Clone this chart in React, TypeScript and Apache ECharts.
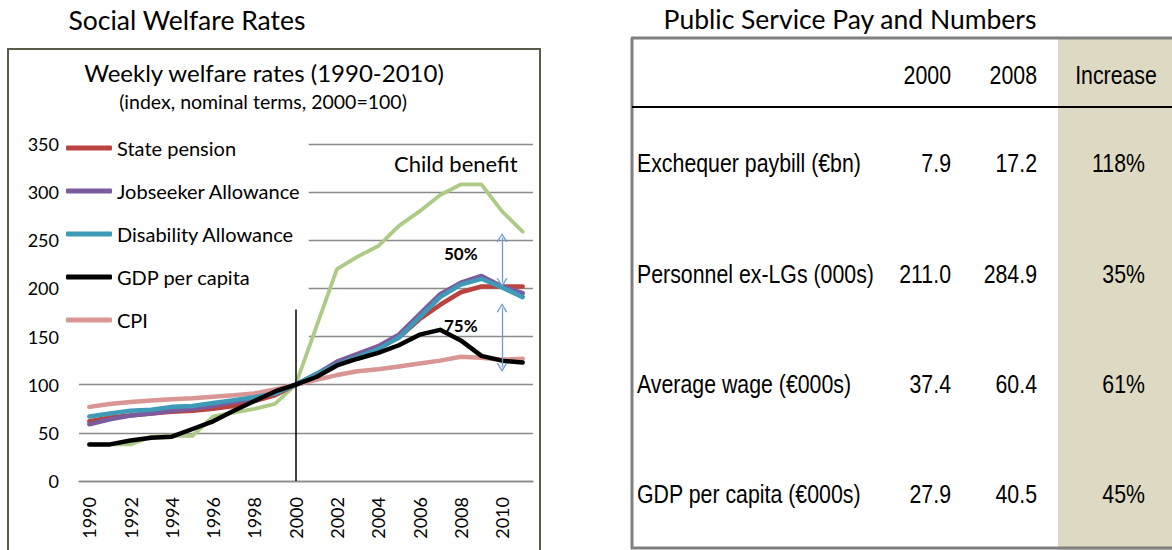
import React, { useEffect, useRef } from "react";
import * as echarts from "echarts";

// ---------- Left chart data ----------
const years = ["1990","1991","1992","1993","1994","1995","1996","1997","1998","1999","2000","2001","2002","2003","2004","2005","2006","2007","2008","2009","2010","2011"];
const statePension = [62, 66, 68, 70, 72, 73, 75, 78, 83, 89, 100, 111, 121, 130, 139, 149, 168, 183, 196, 202, 202, 202];
const jobseeker = [59, 64, 68, 70, 73, 75, 78, 82, 86, 91, 100, 111, 124, 132, 140, 152, 173, 194, 206, 213, 202, 195];
const disability = [67, 70, 73, 74, 77, 78, 81, 84, 87, 91, 100, 111, 121, 129, 137, 149, 170, 191, 204, 210, 201, 191];
const gdpPerCapita = [38, 38, 42, 45, 46, 54, 62, 73, 83, 93, 100, 108, 120, 127, 133, 141, 152, 157, 146, 130, 125, 123];
const cpi = [77, 80, 82, 83.5, 85, 86, 87.5, 89, 91, 95, 100, 105, 110, 114, 116, 119, 122, 125, 129, 128, 126, 127];
const childBenefit = [38, 38, 38, 46, 47, 47, 67, 71, 75, 80, 100, 160, 220, 233, 244, 265, 280, 297, 308, 308, 280, 259];

// ---------- Right table data ----------
const tableHeaders = ["2000", "2008", "Increase"];
const rowLabels = ["Exchequer paybill (\u20acbn)", "Personnel ex-LGs (000s)", "Average wage (\u20ac000s)", "GDP per capita (\u20ac000s)"];
const values2000 = ["7.9", "211.0", "37.4", "27.9"];
const values2008 = ["17.2", "284.9", "60.4", "40.5"];
const increases = ["118%", "35%", "61%", "45%"];

const LATO = "Lato, 'Open Sans', sans-serif";
const ARIAL = "'Liberation Sans', Arial, sans-serif";

function buildGraphic() {
  const g: any[] = [];
  const center = { align: "center", verticalAlign: "middle", textAlign: "center", textVerticalAlign: "middle" };
  // Left panel title and frame
  g.push({ type: "text", x: 187, y: 20, style: { text: "Social Welfare Rates", fontSize: 26.5, fontFamily: LATO, fill: "#000", ...center } });
  g.push({ type: "rect", shape: { x: 8, y: 49, width: 532, height: 520 }, style: { fill: "none", stroke: "#5B5A4C", lineWidth: 2 }, z: 1 });
  g.push({ type: "text", x: 264, y: 72, style: { text: "Weekly welfare rates (1990-2010)", fontSize: 24, fontFamily: LATO, fill: "#000", ...center } });
  g.push({ type: "text", x: 263, y: 101, style: { text: "(index, nominal terms, 2000=100)", fontSize: 19.5, fontFamily: LATO, fill: "#000", ...center } });

  // Right panel title
  g.push({ type: "text", x: 850, y: 19, style: { text: "Public Service Pay and Numbers", fontSize: 26.5, fontFamily: LATO, fill: "#000", ...center } });
  // Shaded increase column
  g.push({ type: "rect", shape: { x: 1058, y: 38, width: 114, height: 512 }, style: { fill: "#DDD9C3" }, z: 0 });
  // Frame
  g.push({ type: "line", shape: { x1: 632, y1: 38, x2: 632, y2: 549 }, style: { stroke: "#808080", lineWidth: 3 } });
  g.push({ type: "line", shape: { x1: 631, y1: 38, x2: 1172, y2: 38 }, style: { stroke: "#808080", lineWidth: 3 } });
  g.push({ type: "line", shape: { x1: 631, y1: 548, x2: 1172, y2: 548 }, style: { stroke: "#808080", lineWidth: 3 } });
  g.push({ type: "line", shape: { x1: 632, y1: 107, x2: 1172, y2: 107 }, style: { stroke: "#000", lineWidth: 2 } });

  const tFont = 26;
  const sx = 0.82;
  const txt = (text: string, x: number, y: number, align: string) => ({
    type: "text", x, y, scaleX: sx,
    style: { text, fontSize: tFont, fontFamily: ARIAL, fill: "#000", align, verticalAlign: "middle", textAlign: align, textVerticalAlign: "middle" },
  });
  const headerY = 75;
  g.push(txt(tableHeaders[0], 951, headerY, "right"));
  g.push(txt(tableHeaders[1], 1037, headerY, "right"));
  g.push(txt(tableHeaders[2], 1116, headerY, "center"));
  const rowY = [163, 274, 384, 494];
  rowLabels.forEach((lab, i) => {
    g.push(txt(lab, 637, rowY[i], "left"));
    g.push(txt(values2000[i], 951, rowY[i], "right"));
    g.push(txt(values2008[i], 1037, rowY[i], "right"));
    g.push(txt(increases[i], 1145, rowY[i], "right"));
  });
  return g;
}

const chevron = "path://M0,10 L5,0 L10,10 L8.6,10 L5,2.6 L1.4,10 Z";

export default function App() {
  const ref = useRef<HTMLDivElement>(null);
  useEffect(() => {
    if (!ref.current) return;
    const chart = echarts.init(ref.current, null, { renderer: "svg" });
    const lineSeries = (name: string, data: number[], color: string, width: number, z = 2) => ({
      type: "line", name, data, symbol: "none", showSymbol: false, z,
      lineStyle: { color, width, cap: "round", join: "round" },
      itemStyle: { color },
      emphasis: { disabled: true },
    });
    const option: any = {
      animation: false,
      backgroundColor: "#fff",
      textStyle: { fontFamily: LATO },
      grid: { left: 79, right: 639, top: 144, bottom: 69, containLabel: false, outerBoundsMode: "none" },
      legend: {
        data: ["State pension", "Jobseeker Allowance", "Disability Allowance", "GDP per capita", "CPI"],
        orient: "vertical",
        left: 62,
        top: 128,
        z: 1,
        padding: [10, 8, 12, 4],
        icon: "roundRect",
        itemWidth: 46,
        itemHeight: 5,
        itemGap: 23,
        backgroundColor: "#fff",
        selectedMode: false,
        textStyle: { fontSize: 20, color: "#000", fontFamily: LATO, lineHeight: 20 },
      },
      xAxis: {
        type: "category",
        data: years,
        boundaryGap: true,
        axisLine: { show: true, lineStyle: { color: "#8A8A8A", width: 1.3 } },
        axisTick: { show: false },
        axisLabel: { interval: 1, rotate: 90, fontSize: 18, margin: 16, color: "#000", fontFamily: LATO },
        splitLine: { show: false },
      },
      yAxis: {
        type: "value",
        min: 0,
        max: 350,
        interval: 50,
        axisLine: { show: false },
        axisTick: { show: false },
        axisLabel: { fontSize: 18, margin: 20, color: "#000", fontFamily: LATO },
        splitLine: { show: true, lineStyle: { color: "#8A8A8A", width: 1.3 } },
      },
      graphic: buildGraphic(),
      series: [
        lineSeries("Child benefit", childBenefit, "#ADCB86", 3.8),
        lineSeries("CPI", cpi, "#D99694", 4.5),
        lineSeries("State pension", statePension, "#B9443F", 4.5),
        lineSeries("Jobseeker Allowance", jobseeker, "#7A5C9E", 4.5),
        lineSeries("Disability Allowance", disability, "#3E9AB6", 4.5),
        lineSeries("GDP per capita", gdpPerCapita, "#000000", 4.5),
        {
          type: "line", name: "divider", data: years.map(() => null), z: 6, silent: true,
          symbol: "none",
          markLine: {
            silent: true, symbol: ["none", "none"], label: { show: false },
            lineStyle: { color: "#000", width: 1.5, type: "solid" },
            data: [[{ coord: ["2000", 0] }, { coord: ["2000", 178] }]],
          },
        },
        {
          type: "line", name: "annotations", data: years.map(() => null), z: 5, silent: true,
          symbol: "none",
          markLine: {
            silent: true, symbol: [chevron, chevron], symbolSize: [11, 9], label: { show: false },
            lineStyle: { color: "#6E9BD2", width: 1.3, type: "solid" },
            itemStyle: { color: "#6E9BD2" },
            data: [
              [{ coord: ["2010", 253] }, { coord: ["2010", 206] }],
              [{ coord: ["2010", 180] }, { coord: ["2010", 118] }],
            ],
          },
          markPoint: {
            silent: true, symbol: "circle", symbolSize: 1,
            itemStyle: { color: "rgba(0,0,0,0)" },
            label: { show: true, position: "inside", formatter: "{b}", color: "#000", fontFamily: LATO },
            data: [
              { name: "50%", coord: ["2008", 236], label: { fontSize: 17, fontWeight: "bold" } },
              { name: "75%", coord: ["2008", 161], label: { fontSize: 17, fontWeight: "bold" } },
              { name: "Child benefit", coord: ["2008", 330], label: { fontSize: 22, offset: [-5, 0] } },
            ],
          },
        },
      ],
    };
    chart.setOption(option);
    return () => chart.dispose();
  }, []);
  return (
    <div
      ref={ref}
      style={{ position: "absolute", left: 0, top: 0, width: 1172, height: 550, background: "#fff" }}
    />
  );
}
